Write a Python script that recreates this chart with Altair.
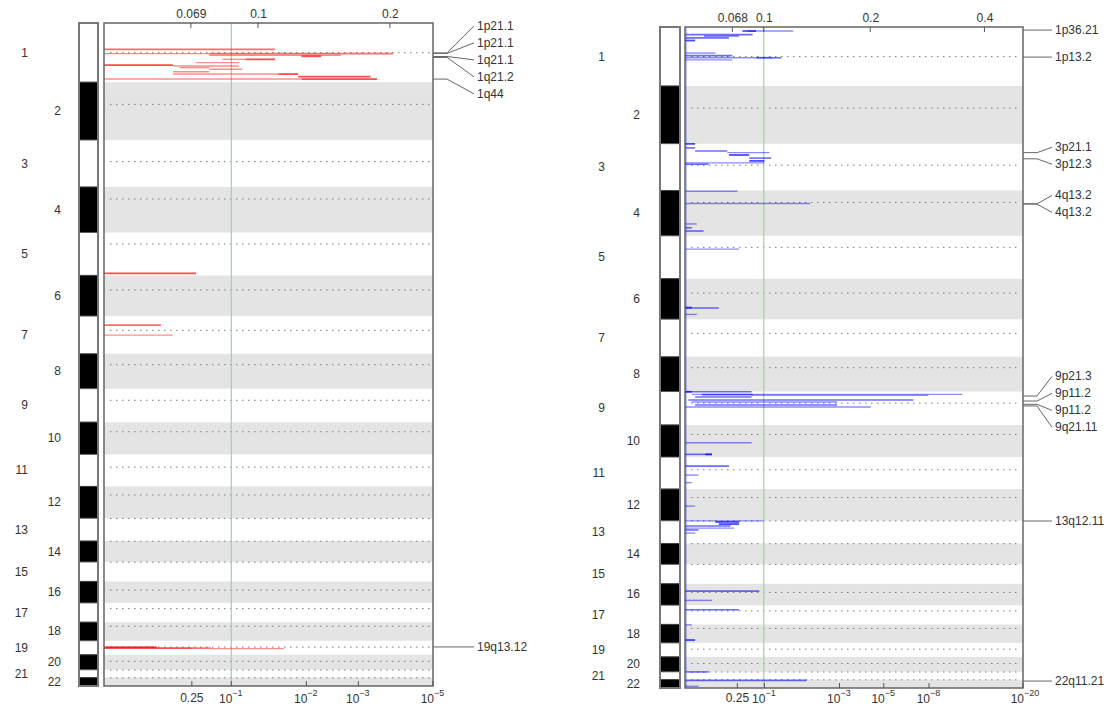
import altair as alt
import pandas as pd

# ---------------- genome layout (Mb, as plotted) ----------------
chrom_len = [249.3, 243.2, 198.0, 191.2, 180.9, 171.1, 159.1, 146.4, 141.2, 135.5, 135.0,
             133.9, 96.0, 88.0, 82.0, 90.4, 81.2, 78.1, 59.1, 63.0, 33.0, 35.3]
centromere = [125.0, 93.3, 91.0, 50.4, 48.4, 61.0, 59.9, 45.6, 49.0, 40.2, 53.7,
              35.8, 0.8, 0.8, 0.8, 36.6, 24.0, 17.2, 26.5, 27.5, 0.8, 0.8]

# ---------------- amplifications (left panel) ----------------
amp_chrom = [1, 1, 1, 1, 1, 1, 1, 1, 1, 1, 1, 1, 1, 1, 1, 1, 1, 1,
             5, 7, 7, 19, 19, 19, 19]
amp_pos = [111, 129, 129, 136, 140, 153, 153, 167, 177, 181, 188, 195, 205, 215, 215, 226, 236, 236,
           172, 38, 80, 27, 31, 31, 33]
amp_from = [0, 0, 0.32, 0.32, 0.60, 0.36, 0.43, 0.28, 0, 0.21, 0.23, 0.32, 0.21, 0.21, 0.53, 0.59, 0, 0.6,
            0, 0, 0, 0, 0, 0.27, 0.325]
amp_to = [0.52, 0.32, 0.878, 0.72, 0.66, 0.43, 0.52, 0.41, 0.21, 0.41, 0.32, 0.42, 0.32, 0.53, 0.59, 0.81, 0.6, 0.83,
          0.28, 0.173, 0.209, 0.16, 0.27, 0.325, 0.547]
amp_level = ["mid", "weak", "mid", "weak", "strong", "weak", "strong", "weak", "strong", "weak", "weak", "weak",
             "weak", "weak", "strong", "strong", "weak", "strong",
             "strong", "mid", "weak", "strong", "strong", "mid", "weak"]

amp_peak_label = ["1p21.1", "1p21.1", "1q21.1", "1q21.2", "1q44", "19q13.12"]
amp_peak_chrom = [1, 1, 1, 1, 1, 19]
amp_peak_pos = [126, 128, 141, 145, 236, 26]

amp_top_vals = [0.264, 0.468, 0.869]
amp_top_labels = ["0.069", "0.1", "0.2"]
amp_bot_vals = [0.267, 0.387, 0.615, 0.773, 1.0]
amp_bot_base = ["0.25", "10", "10", "10", "10"]
amp_bot_exp = ["", "−1", "−2", "−3", "−5"]
amp_green = 0.387

# ---------------- deletions (right panel) ----------------
del_chrom = [1, 1, 1, 1, 1, 1, 1, 1, 1, 1, 1, 1,
             3, 3, 3, 3, 3, 3, 3, 3, 3,
             4, 4, 4, 4, 4, 5, 6, 6, 6,
             9, 9, 9, 9, 9, 9, 9, 9, 9, 9,
             10, 10, 10, 11, 11, 11, 12,
             13, 13, 13, 13, 13, 13, 13,
             16, 16, 17, 18, 18, 21, 22, 22]
del_pos = [17, 17, 32, 38, 46, 57, 110, 121, 130, 130, 130, 139,
           1, 18, 31, 38, 48, 61, 73, 81, 87,
           3, 55, 141, 157, 171, 56, 124, 122, 151,
           1, 1, 12, 13, 16, 23, 36, 44, 57, 65,
           75, 124, 124, 38, 76, 108, 72,
           0.5, 5, 14, 22, 31, 39, 52,
           31, 70, 19, 2, 66, 0.5, 3, 28]
del_from = [0.185, 0.17, 0.0, 0.056, 0.0, 0.0, 0.0, 0.0, 0.0, 0.21, 0.26, 0.0,
            0.0, 0.0, 0.03, 0.125, 0.13, 0.19, 0.19, 0.0, 0.0,
            0.0, 0.0, 0.0, 0.0, 0.0, 0.0, 0.0, 0.0, 0.0,
            0.0, 0.0, 0.02, 0.05, 0.197, 0.03, 0.01, 0.02, 0.03, 0.0,
            0.0, 0.0, 0.06, 0.0, 0.0, 0.0, 0.0,
            0.0, 0.09, 0.1, 0.0, 0.0, 0.0, 0.0,
            0.0, 0.0, 0.0, 0.0, 0.0, 0.0, 0.0, 0.0]
del_to = [0.32, 0.21, 0.2, 0.16, 0.13, 0.03, 0.09, 0.14, 0.21, 0.26, 0.285, 0.14,
          0.03, 0.03, 0.125, 0.25, 0.19, 0.255, 0.235, 0.235, 0.07,
          0.155, 0.37, 0.035, 0.02, 0.055, 0.16, 0.1, 0.02, 0.035,
          0.197, 0.02, 0.82, 0.2, 0.72, 0.197, 0.676, 0.45, 0.45, 0.55,
          0.197, 0.08, 0.08, 0.13, 0.04, 0.02, 0.03,
          0.232, 0.16, 0.16, 0.135, 0.145, 0.04, 0.03,
          0.22, 0.08, 0.16, 0.02, 0.03, 0.07, 0.36, 0.04]
del_level = ["weak", "strong", "mid", "mid", "mid", "strong", "weak", "mid", "weak", "strong", "mid", "weak",
             "strong", "mid", "mid", "weak", "strong", "mid", "strong", "weak", "mid",
             "weak", "weak", "weak", "mid", "mid", "weak", "mid", "strong", "weak",
             "mid", "strong", "weak", "mid", "weak", "mid", "mid", "weak", "mid", "weak",
             "weak", "mid", "strong", "mid", "weak", "weak", "weak",
             "weak", "strong", "strong", "mid", "weak", "mid", "weak",
             "mid", "weak", "mid", "weak", "strong", "mid", "mid", "weak"]

del_peak_label = ["1p36.21", "1p13.2", "3p21.1", "3p12.3", "4q13.2", "4q13.2",
                  "9p21.3", "9p11.2", "9p11.2", "9q21.11", "13q12.11", "22q11.21"]
del_peak_chrom = [1, 1, 3, 3, 4, 4, 9, 9, 9, 9, 13, 22]
del_peak_pos = [13, 127, 38, 64, 56, 57, 19, 40, 54, 61, 1, 6]

del_top_vals = [0.14, 0.233, 0.548, 0.886]
del_top_labels = ["0.068", "0.1", "0.2", "0.4"]
del_bot_vals = [0.155, 0.235, 0.457, 0.588, 0.722, 1.0]
del_bot_base = ["0.25", "10", "10", "10", "10", "10"]
del_bot_exp = ["", "−1", "−3", "−5", "−8", "−20"]
del_green = 0.233

# ---------------- derived tables ----------------
total = sum(chrom_len)
offsets = [sum(chrom_len[:i]) for i in range(len(chrom_len))]

chrom_df = pd.DataFrame({"chrom": list(range(1, 23)), "start": offsets})
chrom_df["end"] = chrom_df["start"] + chrom_len
chrom_df["mid"] = (chrom_df["start"] + chrom_df["end"]) / 2
chrom_df["cen"] = chrom_df["start"] + centromere
chrom_df["parity"] = ["odd" if c % 2 else "even" for c in chrom_df["chrom"]]
chrom_df["label"] = chrom_df["chrom"].astype(str)


def seg_table(ch, pos, x0, x1, lev):
    return pd.DataFrame({"ypos": [offsets[c - 1] + p for c, p in zip(ch, pos)],
                         "x0": x0, "x1": x1, "level": lev})


def label_layout(peaks, spacing):
    order = sorted(range(len(peaks)), key=lambda i: peaks[i])
    groups = [[i] for i in order]

    def place(g):
        m = sum(peaks[i] for i in g) / len(g)
        n = len(g)
        return [m + (k - (n - 1) / 2) * spacing for k in range(n)]

    merged = True
    while merged:
        merged = False
        for j in range(len(groups) - 1):
            if place(groups[j + 1])[0] - place(groups[j])[-1] < spacing:
                groups[j] = groups[j] + groups[j + 1]
                del groups[j + 1]
                merged = True
                break
    out = [0.0] * len(peaks)
    for g in groups:
        for i, p in zip(g, place(g)):
            out[i] = p
    return out


def peak_table(labels, ch, pos, hp):
    peaks = [offsets[c - 1] + p for c, p in zip(ch, pos)]
    spacing = 17 * total / hp
    return pd.DataFrame({"label": labels, "peak": peaks, "lab": label_layout(peaks, spacing)})


def label_expr(vals, labels):
    s = ""
    for v, l in zip(vals, labels):
        s += f"abs(datum.value - {v}) < 1e-6 ? '{l}' : "
    return s + "''"


LEVELS = ["weak", "mid", "strong"]
TXT = "#333333"


def panel(W, y0, Hp, L, R, ideo, odd_x, even_x, elbow, end, text_x, segs, color, peaks,
          top_vals, top_labels, bot_vals, bot_base, bot_exp, green, bot_off, baseline):
    yb = y0 + Hp
    xs = alt.Scale(domain=[0, 1], range=[L, R], nice=False, zero=False)
    yscale = alt.Scale(domain=[0, total], range=[y0, yb], nice=False, zero=False)
    Y = lambda f: alt.Y(f, scale=yscale, axis=None)
    base = alt.Chart(chrom_df)
    one = alt.Chart(pd.DataFrame({"k": [0]}))

    bands = base.transform_filter("datum.parity == 'even'").mark_rect(color="#e4e4e4").encode(
        x=alt.value(L), x2=alt.value(R), y=Y("start:Q"), y2="end:Q")
    dotted = base.mark_rule(color="#7a7a7a", strokeDash=[1.5, 4.5], strokeWidth=1).encode(
        x=alt.value(L + 6), x2=alt.value(R - 3), y=Y("cen:Q"))
    green_line = alt.Chart(pd.DataFrame({"g": [green]})).mark_rule(color="#9fd49f", strokeWidth=1.2).encode(
        x=alt.X("g:Q", scale=xs, axis=None), y=alt.value(y0), y2=alt.value(yb))
    seg = alt.Chart(segs).mark_rule(color=color).encode(
        x=alt.X("x0:Q", scale=xs, axis=None), x2="x1:Q", y=Y("ypos:Q"),
        opacity=alt.Opacity("level:N", scale=alt.Scale(domain=LEVELS, range=[0.45, 0.7, 1.0]), legend=None),
        strokeWidth=alt.StrokeWidth("level:N", scale=alt.Scale(domain=LEVELS, range=[1.4, 1.8, 2.8]),
                                    legend=None))
    layers = [bands, dotted, green_line, seg]
    if baseline:
        layers.append(one.mark_rule(color=color, opacity=0.4, strokeWidth=1.2).encode(
            x=alt.value(L + 1), y=alt.value(y0), y2=alt.value(yb)))
    frame = one.mark_rect(fillOpacity=0, stroke="#666666", strokeWidth=1.5).encode(
        x=alt.value(L), x2=alt.value(R), y=alt.value(y0), y2=alt.value(yb))
    top = alt.Chart(pd.DataFrame({"v": top_vals})).mark_rule(color="#555555").encode(
        x=alt.X("v:Q", scale=xs, axis=alt.Axis(
            orient="top", values=top_vals, labelExpr=label_expr(top_vals, top_labels), domain=False,
            ticks=False, grid=False, labelPadding=3, labelFontSize=12, labelColor=TXT, offset=-y0,
            labelFlush=False, labelOverlap=False, title=None)),
        y=alt.value(y0), y2=alt.value(y0 + 5))
    bot_df = pd.DataFrame({"v": bot_vals, "base": bot_base, "exp": bot_exp})
    bot = alt.Chart(bot_df).mark_rule(color="#555555").encode(
        x=alt.X("v:Q", scale=xs, axis=None), y=alt.value(yb - 5), y2=alt.value(yb))
    bot_plain = alt.Chart(bot_df).transform_filter("datum.exp == ''").mark_text(
        align="center", baseline="middle", fontSize=12, color=TXT).encode(
        x=alt.X("v:Q", scale=xs, axis=None), y=alt.value(yb + bot_off), text="base:N")
    bot_pow = alt.Chart(bot_df).transform_filter("datum.exp != ''").mark_text(
        align="right", baseline="middle", fontSize=12, color=TXT, dx=1).encode(
        x=alt.X("v:Q", scale=xs, axis=None), y=alt.value(yb + bot_off + 1), text="base:N")
    bot_exp_t = alt.Chart(bot_df).transform_filter("datum.exp != ''").mark_text(
        align="left", baseline="middle", fontSize=9, color=TXT, dx=1).encode(
        x=alt.X("v:Q", scale=xs, axis=None), y=alt.value(yb + bot_off - 5), text="exp:N")
    ideo_rects = base.mark_rect(stroke="#444444", strokeWidth=0.8).encode(
        x=alt.value(ideo[0]), x2=alt.value(ideo[1]), y=Y("start:Q"), y2="end:Q",
        color=alt.Color("parity:N", scale=alt.Scale(domain=["odd", "even"], range=["#ffffff", "#000000"]),
                        legend=None))
    ideo_border = one.mark_rect(fillOpacity=0, stroke="#777777", strokeWidth=2).encode(
        x=alt.value(ideo[0]), x2=alt.value(ideo[1]), y=alt.value(y0), y2=alt.value(yb))
    odd_lab = base.transform_filter("datum.parity == 'odd'").mark_text(
        align="right", baseline="middle", fontSize=12, color=TXT).encode(
        x=alt.value(odd_x), y=Y("mid:Q"), text="label:N")
    even_lab = base.transform_filter("datum.parity == 'even'").mark_text(
        align="right", baseline="middle", fontSize=12, color=TXT).encode(
        x=alt.value(even_x), y=Y("mid:Q"), text="label:N")
    pk = alt.Chart(peaks)
    conn_h = pk.mark_rule(color="#666666", strokeWidth=1).encode(
        x=alt.value(R), x2=alt.value(elbow), y=Y("peak:Q"))
    conn_d = pk.mark_rule(color="#666666", strokeWidth=1).encode(
        x=alt.value(elbow), x2=alt.value(end), y=Y("peak:Q"), y2="lab:Q")
    pk_text = pk.mark_text(align="left", baseline="middle", fontSize=12, color=TXT).encode(
        x=alt.value(text_x), y=Y("lab:Q"), text="label:N")
    layers += [frame, top, bot, bot_plain, bot_pow, bot_exp_t, ideo_rects, ideo_border,
               odd_lab, even_lab, conn_h, conn_d, pk_text]
    return alt.layer(*layers).properties(width=W, height=yb).resolve_axis(x="independent")


left = panel(555, 0, 663, 104, 433, (79, 98), 28, 61, 447, 474, 477,
             seg_table(amp_chrom, amp_pos, amp_from, amp_to, amp_level), "#ff0000",
             peak_table(amp_peak_label, amp_peak_chrom, amp_peak_pos, 663),
             amp_top_vals, amp_top_labels, amp_bot_vals, amp_bot_base, amp_bot_exp, amp_green, 12, False)
right = panel(553, 4, 661, 130, 468, (105, 125), 50, 85, 482, 497, 500,
              seg_table(del_chrom, del_pos, del_from, del_to, del_level), "#0000ff",
              peak_table(del_peak_label, del_peak_chrom, del_peak_pos, 661),
              del_top_vals, del_top_labels, del_bot_vals, del_bot_base, del_bot_exp, del_green, 10, True)

chart = alt.hconcat(left, right, spacing=0).properties(
    padding={"top": 7, "left": 0, "right": 0, "bottom": 0}
).configure_view(strokeWidth=0).configure_axis(labelFont="Liberation Sans").configure_text(
    font="Liberation Sans")

chart.save("out.html", embed_options={"renderer": "svg", "actions": False})
